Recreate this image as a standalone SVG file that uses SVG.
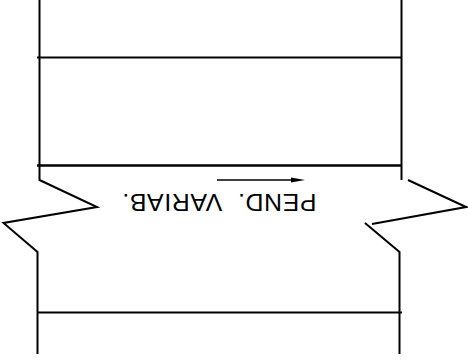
<svg xmlns="http://www.w3.org/2000/svg" width="468" height="362" viewBox="0 0 468 362">
<style>
.l{fill:none;stroke:#000;stroke-width:2}
.t{font-family:"Liberation Sans",Arial,sans-serif;font-size:23px;fill:#000;white-space:pre;letter-spacing:.6px}
</style>
<rect width="468" height="362" fill="#fff"/>
<g id="connectors">
<path class="l" d="M39.500 0V180L97 207L3.500 223L37.500 252V354"/>
<path class="l" d="M401.500 0V180"/>
<path class="l" d="M408 180L466 207L372 224"/>
<path class="l" d="M365 223L399.500 252V354"/>
<path class="l" d="M37 57.500H402"/>
<path class="l" style="stroke-width:2.500" d="M37 165.500H402"/>
<path class="l" d="M37 312.500H402"/>
<path class="l" style="stroke-width:1.300" d="M217 180H295"/>
<path d="M305 180L291 177.500V182.500Z" fill="#000"/>
</g>
<g id="label"><text class="t" transform="translate(316.500 194) rotate(180) scale(1.08 1)">PEND.  VARIAB.</text></g>
</svg>
